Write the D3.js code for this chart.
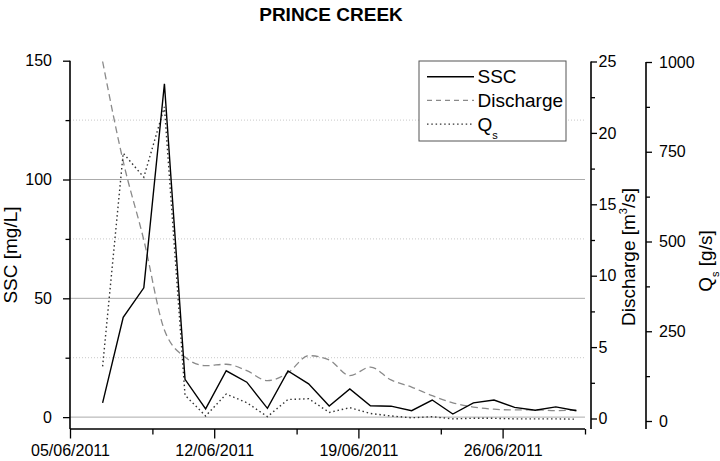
<!DOCTYPE html>
<html>
<head>
<meta charset="utf-8">
<script src="https://cdn.jsdelivr.net/npm/d3@7"></script>
<style>
body { margin: 0; background: #fff; }
svg { display: block; font-family: "Liberation Sans", Arial, sans-serif; }
.axis text { font-size: 16px; fill: #000; font-family: "Liberation Sans", Arial, sans-serif; }
.axis line { stroke: #000; stroke-width: 1.3; }
</style>
</head>
<body>
<script>
// sampling times (one sample a day)
var sampleTimes = ["06/06/2011 14:00", "07/06/2011 14:00", "08/06/2011 14:00", "09/06/2011 14:00",
	"10/06/2011 14:00", "11/06/2011 14:00", "12/06/2011 14:00", "13/06/2011 14:00",
	"14/06/2011 14:00", "15/06/2011 14:00", "16/06/2011 14:00", "17/06/2011 14:00",
	"18/06/2011 14:00", "19/06/2011 14:00", "20/06/2011 14:00", "21/06/2011 14:00",
	"22/06/2011 14:00", "23/06/2011 14:00", "24/06/2011 14:00", "25/06/2011 14:00",
	"26/06/2011 14:00", "27/06/2011 14:00", "28/06/2011 14:00", "29/06/2011 14:00"];

var ssc = [6.0, 42.0, 54.4, 140.3, 15.9, 3.5, 19.5, 14.7, 3.7, 19.4, 14.0, 4.7,
	11.9, 4.8, 4.6, 2.7, 7.2, 1.3, 6.0, 7.2, 4.1, 2.9, 4.3, 2.7];
var discharge = [25.0, 18.0, 12.5, 6.2, 4.3, 3.7, 3.8, 3.35, 2.65, 3.2, 4.4, 4.1,
	3.0, 3.6, 2.7, 2.2, 1.6, 1.1, 0.8, 0.65, 0.6, 0.6, 0.55, 0.6];
var qs = [152, 746, 679, 875, 72, 14, 75, 51, 12, 60, 62, 24,
	37, 21, 14, 9, 12, 6, 7.5, 7.5, 6, 6, 6, 5];

var dateTicks = ["05/06/2011", "12/06/2011", "19/06/2011", "26/06/2011"];
var dateMinorTicks = ["09/06/2011", "16/06/2011", "23/06/2011", "30/06/2011"];
var sscTicks = [0, 50, 100, 150];
var sscMinorTicks = [25, 75, 125];
var dischargeTicks = [0, 5, 10, 15, 20, 25];
var dischargeMinorTicks = [2.5, 7.5, 12.5, 17.5, 22.5];
var qsTicks = [0, 250, 500, 750, 1000];
var qsMinorTicks = [125, 375, 625, 875];

var parseTime = d3.timeParse("%d/%m/%Y %H:%M");
var parseDay = d3.timeParse("%d/%m/%Y");
var fmtDay = d3.timeFormat("%d/%m/%Y");
var times = sampleTimes.map(parseTime);

var left = 70, right = 585, axisY = 429;

var svg = d3.select("body").append("svg")
	.attr("width", 720)
	.attr("height", 461);

var x = d3.scaleTime()
	.domain([parseDay(dateTicks[0]), parseDay(dateMinorTicks[3])])
	.range([left, right]);
var ySSC = d3.scaleLinear().domain([-5, 150]).range([axisY, 60.7]);
var yQ = d3.scaleLinear().domain([0, 25]).range([418.5, 61.5]);
var yQs = d3.scaleLinear().domain([0, 1000]).range([421, 62]);

// grid
svg.selectAll(".grid-major")
	.data(sscTicks.filter(function(d){ return d < 150; }))
	.enter().append("line")
	.attr("x1", left).attr("x2", right)
	.attr("y1", function(d){ return ySSC(d); })
	.attr("y2", function(d){ return ySSC(d); })
	.attr("stroke", "#ababab")
	.attr("stroke-width", 1);
svg.selectAll(".grid-minor")
	.data(sscMinorTicks)
	.enter().append("line")
	.attr("x1", left).attr("x2", right)
	.attr("y1", function(d){ return ySSC(d); })
	.attr("y2", function(d){ return ySSC(d); })
	.attr("stroke", "#c8c8c8")
	.attr("stroke-dasharray", "1,2")
	.attr("stroke-width", 1);

// series
function drawSeries(values, yScale, curve){
	return svg.append("path")
		.datum(values)
		.attr("fill", "none")
		.attr("d", d3.line()
			.x(function(d, i){ return x(times[i]); })
			.y(function(d){ return yScale(d); })
			.curve(curve));
}
drawSeries(discharge, yQ, d3.curveMonotoneX)
	.attr("stroke", "#8a8a8a")
	.attr("stroke-width", 1.3)
	.attr("stroke-dasharray", "7,4");
drawSeries(qs, yQs, d3.curveLinear)
	.attr("stroke", "#333")
	.attr("stroke-width", 1.4)
	.attr("stroke-dasharray", "1.5,2.8");
drawSeries(ssc, ySSC, d3.curveLinear)
	.attr("stroke", "#000")
	.attr("stroke-width", 1.4);

// axes
function axisGroup(tx, ty){
	return svg.append("g").attr("class", "axis").attr("transform", "translate(" + tx + "," + ty + ")");
}
function noDomain(g){ g.select(".domain").remove(); }

axisGroup(left, 0).call(d3.axisLeft(ySSC).tickValues(sscTicks).tickSize(7).tickPadding(11)).call(noDomain);
axisGroup(left, 0).call(d3.axisLeft(ySSC).tickValues(sscMinorTicks).tickSize(4.5).tickFormat("")).call(noDomain);

axisGroup(0, axisY).call(d3.axisBottom(x).tickValues(dateTicks.map(parseDay)).tickFormat(fmtDay).tickSize(9.5).tickPadding(6)).call(noDomain);
axisGroup(0, axisY).call(d3.axisBottom(x).tickValues(dateMinorTicks.map(parseDay)).tickSize(5.5).tickFormat("")).call(noDomain);

axisGroup(591, 0).call(d3.axisRight(yQ).tickValues(dischargeTicks).tickSize(6).tickPadding(1.5)).call(noDomain);
axisGroup(591, 0).call(d3.axisRight(yQ).tickValues(dischargeMinorTicks).tickSize(4).tickFormat("")).call(noDomain);

axisGroup(646, 0).call(d3.axisRight(yQs).tickValues(qsTicks).tickFormat(d3.format("d")).tickSize(6).tickPadding(7)).call(noDomain);
axisGroup(646, 0).call(d3.axisRight(yQs).tickValues(qsMinorTicks).tickSize(4).tickFormat("")).call(noDomain);

var axisLines = [
	[left, ySSC(150), left, axisY],
	[left, axisY, right, axisY],
	[591, yQ(25), 591, axisY],
	[646, yQs(1000), 646, axisY]
];
svg.selectAll(".axis-line").data(axisLines).enter().append("line")
	.attr("x1", function(d){ return d[0]; })
	.attr("y1", function(d){ return d[1]; })
	.attr("x2", function(d){ return d[2]; })
	.attr("y2", function(d){ return d[3]; })
	.attr("stroke", "#000")
	.attr("stroke-width", 1.6);

// titles
svg.append("text")
	.attr("x", 331).attr("y", 21)
	.attr("text-anchor", "middle")
	.attr("font-size", 19).attr("font-weight", "bold")
	.text("PRINCE CREEK");

svg.append("text")
	.attr("transform", "translate(17,255) rotate(-90)")
	.attr("text-anchor", "middle")
	.attr("font-size", 19)
	.text("SSC [mg/L]");

var qLabel = svg.append("text")
	.attr("transform", "translate(635,257) rotate(-90)")
	.attr("text-anchor", "middle")
	.attr("font-size", 19);
qLabel.append("tspan").text("Discharge [m");
qLabel.append("tspan").attr("font-size", 11).attr("dy", -8).text("3");
qLabel.append("tspan").attr("dy", 8).text("/s]");

var qsLabel = svg.append("text")
	.attr("transform", "translate(711.5,261) rotate(-90)")
	.attr("text-anchor", "middle")
	.attr("font-size", 19);
qsLabel.append("tspan").text("Q");
qsLabel.append("tspan").attr("font-size", 11).attr("dy", 7.5).text("s");
qsLabel.append("tspan").attr("dy", -7.5).text(" [g/s]");

// legend
var legend = svg.append("g").attr("transform", "translate(419,61)");
legend.append("rect")
	.attr("width", 147).attr("height", 80)
	.attr("fill", "#fff")
	.attr("stroke", "#555")
	.attr("stroke-width", 1);

var legendItems = [
	{name: "SSC", color: "#000", dash: null, width: 1.4},
	{name: "Discharge", color: "#8a8a8a", dash: "5,4", width: 1.3},
	{name: "Q", sub: "s", color: "#333", dash: "1.5,2.8", width: 1.4}
];
legendItems.forEach(function(item, i){
	var yy = 15.7 + i * 23.7;
	legend.append("line")
		.attr("x1", 8).attr("x2", 55)
		.attr("y1", yy).attr("y2", yy)
		.attr("stroke", item.color)
		.attr("stroke-width", item.width)
		.attr("stroke-dasharray", item.dash);
	var t = legend.append("text")
		.attr("x", 58.5).attr("y", yy + 6.6)
		.attr("font-size", 19)
		.text(item.name);
	if(item.sub){
		t.append("tspan").attr("font-size", 11).attr("dy", 8).text(item.sub);
	}
});
</script>
</body>
</html>
